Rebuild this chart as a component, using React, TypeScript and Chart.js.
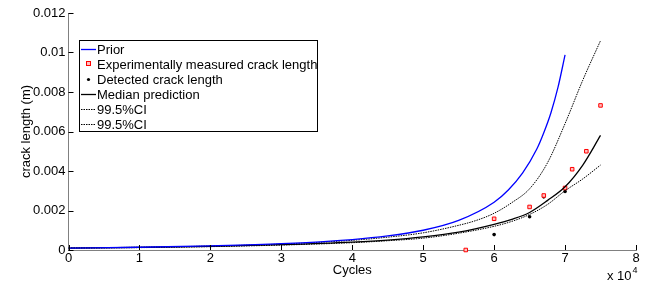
import React, { useEffect, useRef } from "react";
import { Chart, registerables } from "chart.js";

Chart.register(...registerables);

const priorCycles = [0, 10000, 20000, 30000, 40000, 45000, 50000, 55000, 60000, 62000, 64000, 66000, 67000, 68000, 69000, 70000];
const priorLength = [0.0001, 0.00014, 0.00021, 0.00032, 0.00053, 0.00071, 0.001, 0.0015, 0.00242, 0.00304, 0.00389, 0.0051, 0.00594, 0.00694, 0.00823, 0.00988];

const upperCycles = [0, 10000, 20000, 30000, 40000, 45000, 50000, 55000, 57500, 60000, 62500, 65000, 67500, 70000, 72500, 75000];
const upperLength = [0.0001, 0.00014, 0.0002, 0.0003, 0.00049, 0.00065, 0.00087, 0.00125, 0.0015, 0.00186, 0.0024, 0.0031, 0.0044, 0.0064, 0.0086, 0.0106];

const bandCycles = [0, 10000, 20000, 30000, 40000, 45000, 50000, 55000, 60000, 62500, 65000, 67500, 70000, 72500, 75000];
const medianLength = [0.0001, 0.00013, 0.00018, 0.00027, 0.0004, 0.0005, 0.00066, 0.0009, 0.0013, 0.00155, 0.0019, 0.0025, 0.0032, 0.0043, 0.0058];
const lowerLength = [0.0001, 0.00012, 0.00017, 0.00025, 0.00037, 0.00047, 0.0006, 0.00085, 0.0012, 0.00145, 0.0018, 0.0023, 0.003, 0.0036, 0.0043];

const measuredCycles = [56000, 60000, 65000, 67000, 70000, 71000, 73000, 75000];
const measuredLength = [0, 0.00158, 0.00218, 0.00276, 0.00314, 0.00409, 0.005, 0.00732];

const detectedCycles = [60000, 65000, 67000, 70000];
const detectedLength = [0.00078, 0.00168, 0.00269, 0.00296];

const yTickLabels = ["0", "0.002", "0.004", "0.006", "0.008", "0.01", "0.012"];
const xTickLabels = ["0", "1", "2", "3", "4", "5", "6", "7", "8"];

const legendLabels = [
  "Prior",
  "Experimentally measured crack length",
  "Detected crack length",
  "Median prediction",
  "99.5%CI",
  "99.5%CI",
];

const FONT = '"Liberation Sans", Arial, sans-serif';
const FS = 13;

const toPoints = (xs: number[], ys: number[]) => xs.map((x, i) => ({ x, y: ys[i] }));

const insideTicks = {
  id: "insideTicks",
  afterDatasetsDraw(chart: any) {
    const { ctx, chartArea } = chart;
    const xs = chart.scales.x;
    const ys = chart.scales.y;
    ctx.save();
    ctx.strokeStyle = "#000";
    ctx.lineWidth = 1;
    ctx.beginPath();
    xs.ticks.forEach((t: any) => {
      const px = Math.round(xs.getPixelForValue(t.value)) + 0.5;
      ctx.moveTo(px, chartArea.bottom);
      ctx.lineTo(px, chartArea.bottom - 5);
    });
    ys.ticks.forEach((t: any) => {
      const py = Math.round(ys.getPixelForValue(t.value)) + 0.5;
      ctx.moveTo(chartArea.left, py);
      ctx.lineTo(chartArea.left + 5, py);
    });
    ctx.stroke();
    ctx.fillStyle = "#000";
    ctx.font = `${FS}px ${FONT}`;
    ctx.textBaseline = "alphabetic";
    ctx.textAlign = "left";
    const ex = chartArea.right - 29;
    const ey = chart.height - 5;
    ctx.fillText("x 10", ex, ey);
    const w = ctx.measureText("x 10").width;
    ctx.font = `9px ${FONT}`;
    ctx.fillText("4", ex + w + 1, ey - 7);
    ctx.restore();
  },
};

const legendBox = {
  id: "legendBox",
  afterDraw(chart: any) {
    const { ctx } = chart;
    const x0 = 79.5, y0 = 40.5, w = 238, h = 91;
    ctx.save();
    ctx.fillStyle = "#fff";
    ctx.fillRect(x0, y0, w, h);
    ctx.strokeStyle = "#000";
    ctx.lineWidth = 1;
    ctx.strokeRect(x0, y0, w, h);
    const rowY = [49, 64, 79, 94, 109, 124];
    const sx0 = 81, sx1 = 96, tx = 97;
    ctx.font = `${FS}px ${FONT}`;
    ctx.textBaseline = "middle";
    ctx.textAlign = "left";
    legendLabels.forEach((lab, i) => {
      const y = rowY[i];
      ctx.save();
      if (i === 0 || i === 3 || i === 4 || i === 5) {
        ctx.beginPath();
        ctx.strokeStyle = i === 0 ? "#0000ff" : "#000";
        ctx.lineWidth = i <= 3 ? 1.3 : 1;
        if (i >= 4) ctx.setLineDash([1.5, 1]);
        ctx.moveTo(sx0, y + 0.5);
        ctx.lineTo(sx1, y + 0.5);
        ctx.stroke();
      } else if (i === 1) {
        ctx.fillStyle = "#ffc0c0";
        ctx.strokeStyle = "#ff0000";
        ctx.fillRect(87, y - 2, 4, 4);
        ctx.strokeRect(86.5, y - 2.5, 4, 4);
      } else if (i === 2) {
        ctx.fillStyle = "#000";
        ctx.beginPath();
        ctx.arc(88.5, y + 0.5, 1.6, 0, Math.PI * 2);
        ctx.fill();
      }
      ctx.restore();
      ctx.fillStyle = "#000";
      ctx.fillText(lab, tx, y + 1);
    });
    ctx.restore();
  },
};

export default function App() {
  const ref = useRef<HTMLCanvasElement | null>(null);
  useEffect(() => {
    if (!ref.current) return;
    const lineBase = {
      showLine: true,
      pointRadius: 0,
      pointHoverRadius: 0,
      fill: false,
      cubicInterpolationMode: "monotone" as const,
      borderWidth: 1,
    };
    const chart = new Chart(ref.current, {
      type: "scatter",
      data: {
        datasets: [
          {
            ...lineBase,
            label: "Prior",
            data: toPoints(priorCycles, priorLength),
            borderColor: "#0000ff",
            borderWidth: 1.3,
          },
          {
            ...lineBase,
            label: "Median prediction",
            data: toPoints(bandCycles, medianLength),
            borderColor: "#000",
            borderWidth: 1.3,
          },
          {
            ...lineBase,
            label: "99.5%CI",
            data: toPoints(upperCycles, upperLength),
            borderColor: "#000",
            borderDash: [1.5, 1],
          },
          {
            ...lineBase,
            label: "99.5%CI",
            data: toPoints(bandCycles, lowerLength),
            borderColor: "#000",
            borderDash: [1.5, 1],
          },
          {
            label: "Experimentally measured crack length",
            data: toPoints(measuredCycles, measuredLength),
            pointStyle: "rect",
            pointRadius: 2.5,
            borderColor: "#ff0000",
            backgroundColor: "#ffc0c0",
            borderWidth: 1,
            showLine: false,
            clip: false,
          },
          {
            label: "Detected crack length",
            data: toPoints(detectedCycles, detectedLength),
            pointStyle: "circle",
            pointRadius: 1.8,
            borderColor: "#000",
            backgroundColor: "#000",
            borderWidth: 0,
            showLine: false,
            clip: false,
          },
        ],
      },
      options: {
        animation: false,
        responsive: false,
        maintainAspectRatio: false,
        events: [],
        layout: { padding: { left: 0, right: 9, top: 13, bottom: 0 } },
        plugins: {
          legend: { display: false },
          tooltip: { enabled: false },
          title: { display: false },
        },
        scales: {
          x: {
            type: "linear",
            min: 0,
            max: 80000,
            afterFit: (s: any) => {
              s.height = 35;
            },
            afterBuildTicks: (s: any) => {
              s.ticks = xTickLabels.map((_, i) => ({ value: i * 10000 }));
            },
            ticks: {
              color: "#000",
              font: { family: FONT, size: FS },
              padding: 1,
              maxRotation: 0,
              autoSkip: false,
              callback: (_v: any, i: number) => xTickLabels[i],
            },
            grid: { display: false, drawTicks: false },
            border: { display: true, color: "#808080", width: 1 },
            title: {
              display: true,
              text: "Cycles",
              color: "#000",
              font: { family: FONT, size: FS },
              padding: { top: 0, bottom: 7 },
            },
          },
          y: {
            type: "linear",
            min: 0,
            max: 0.012,
            afterFit: (s: any) => {
              s.width = 68.5;
            },
            afterBuildTicks: (s: any) => {
              s.ticks = yTickLabels.map((_, i) => ({ value: i * 0.002 }));
            },
            ticks: {
              color: "#000",
              font: { family: FONT, size: FS },
              padding: 3,
              autoSkip: false,
              callback: (_v: any, i: number) => yTickLabels[i],
            },
            grid: { display: false, drawTicks: false },
            border: { display: true, color: "#808080", width: 1 },
            title: {
              display: true,
              text: "crack length (m)",
              color: "#000",
              font: { family: FONT, size: FS },
              padding: { top: 19, bottom: 0 },
            },
          },
        },
      },
      plugins: [insideTicks, legendBox],
    });
    return () => chart.destroy();
  }, []);

  return (
    <div style={{ position: "fixed", left: 0, top: 0, width: 645, height: 285, background: "#fff" }}>
      <canvas ref={ref} width={645} height={285} style={{ width: 645, height: 285, display: "block" }} />
    </div>
  );
}
